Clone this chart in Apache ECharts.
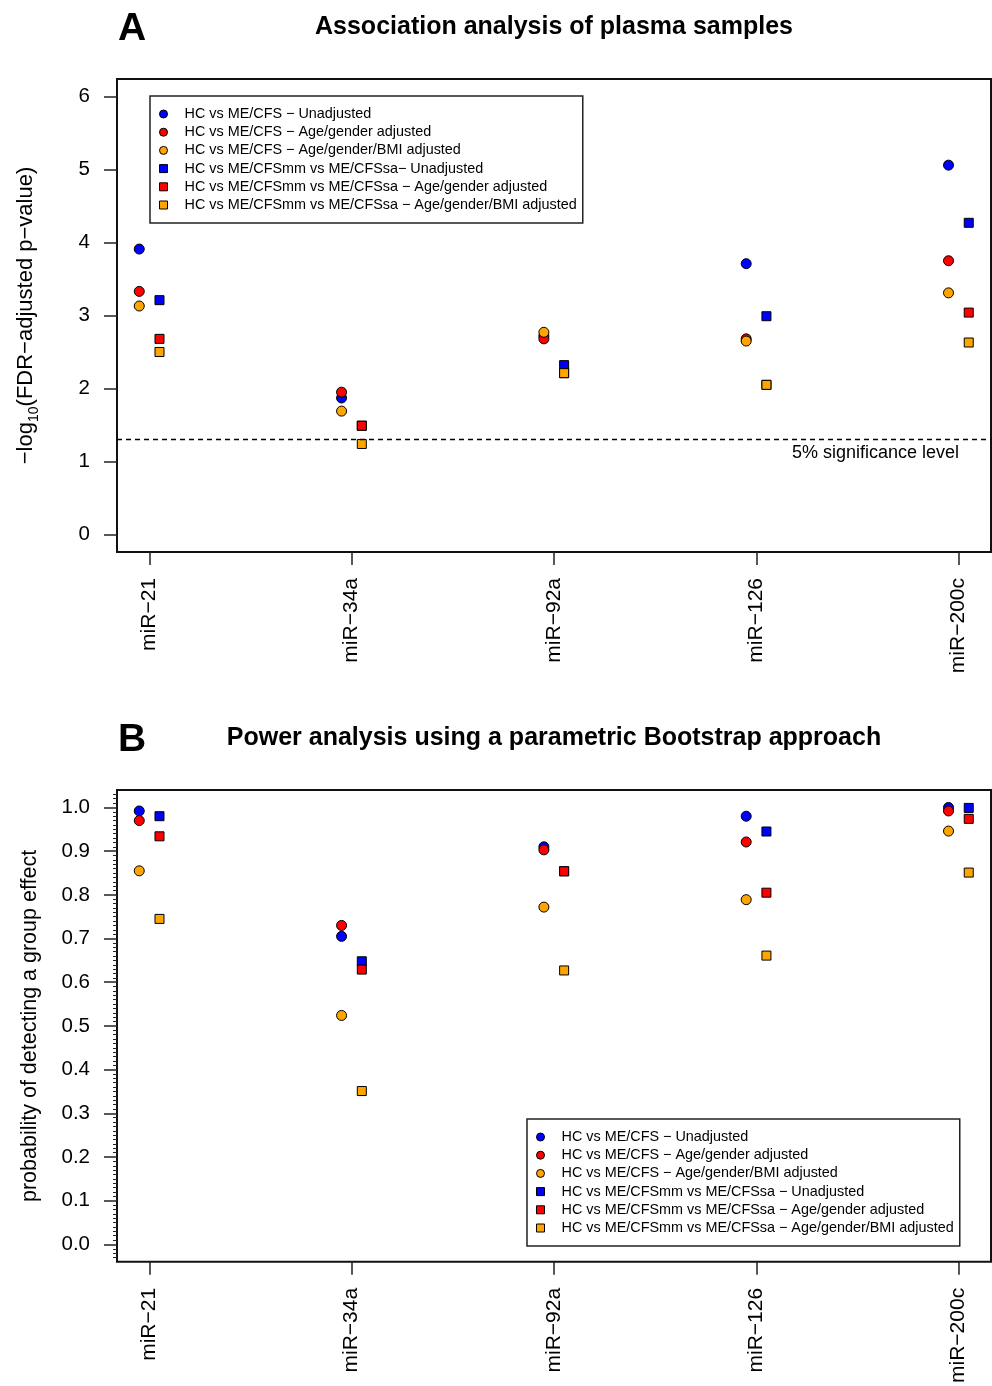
<!DOCTYPE html>
<html>
<head>
<meta charset="utf-8">
<script src="https://cdn.jsdelivr.net/npm/echarts@6/dist/echarts.min.js"></script>
<style>
  html, body { margin: 0; padding: 0; background: #fff; }
  #chart { width: 992px; height: 1386px; }
</style>
</head>
<body>
<div id="chart"></div>
<script>
// categories (x axis) and tick values
var mirnas = ['miR−21', 'miR−34a', 'miR−92a', 'miR−126', 'miR−200c'];
var xTicks = [1, 2, 3, 4, 5];
var yTicksA = [0, 1, 2, 3, 4, 5, 6];
var yTicksB = [0, 0.1, 0.2, 0.3, 0.4, 0.5, 0.6, 0.7, 0.8, 0.9, 1.0];
var sigLevel = 1.30103; // -log10(0.05)

var namesA = [
    'HC vs ME/CFS − Unadjusted',
    'HC vs ME/CFS − Age/gender adjusted',
    'HC vs ME/CFS − Age/gender/BMI adjusted',
    'HC vs ME/CFSmm vs ME/CFSsa− Unadjusted',
    'HC vs ME/CFSmm vs ME/CFSsa − Age/gender adjusted',
    'HC vs ME/CFSmm vs ME/CFSsa − Age/gender/BMI adjusted'
];
var namesB = [
    'HC vs ME/CFS − Unadjusted',
    'HC vs ME/CFS − Age/gender adjusted',
    'HC vs ME/CFS − Age/gender/BMI adjusted',
    'HC vs ME/CFSmm vs ME/CFSsa − Unadjusted',
    'HC vs ME/CFSmm vs ME/CFSsa − Age/gender adjusted',
    'HC vs ME/CFSmm vs ME/CFSsa − Age/gender/BMI adjusted'
];

// A: -log10(FDR-adjusted p-value)
var aHcUnadj     = [3.91, 1.87, 2.72, 3.71, 5.06];
var aHcAge       = [3.33, 1.95, 2.68, 2.68, 3.75];
var aHcAgeBmi    = [3.13, 1.69, 2.77, 2.65, 3.31];
var aSubUnadj    = [3.21, 1.49, 2.32, 2.99, 4.27];
var aSubAge      = [2.68, 1.49, 2.21, 2.05, 3.04];
var aSubAgeBmi   = [2.50, 1.24, 2.21, 2.05, 2.63];

// B: probability of detecting a group effect
var bHcUnadj     = [0.992, 0.705, 0.910, 0.980, 1.000];
var bHcAge       = [0.970, 0.730, 0.903, 0.921, 0.992];
var bHcAgeBmi    = [0.855, 0.524, 0.772, 0.789, 0.946];
var bSubUnadj    = [0.980, 0.648, 0.854, 0.945, 0.999];
var bSubAge      = [0.934, 0.629, 0.854, 0.805, 0.974];
var bSubAgeBmi   = [0.745, 0.351, 0.627, 0.661, 0.851];

var colors = ['#0000FF', '#FF0000', '#FFA500'];
var font = 'Liberation Sans, Arial, Helvetica, sans-serif';

function pts(vals, off) {
    return vals.map(function (v, i) { return [i + 1 + off, v]; });
}

function mkSeries(name, vals, k, gi) {
    var isSq = k >= 3;
    return {
        name: name,
        type: 'scatter',
        xAxisIndex: gi,
        yAxisIndex: gi,
        symbol: isSq ? 'rect' : 'circle',
        symbolSize: isSq ? 9 : 10,
        itemStyle: { color: colors[k % 3], borderColor: '#000', borderWidth: 1, opacity: 1 },
        emphasis: { disabled: true },
        data: pts(vals, isSq ? 0.05 : -0.05)
    };
}

function xAx(gi) {
    return {
        type: 'value', gridIndex: gi, min: 0.84, max: 5.16,
        axisLine: { show: false, onZero: false },
        splitLine: { show: false },
        axisTick: { show: true, length: 13, customValues: xTicks, lineStyle: { color: '#222', width: 1.5 } },
        axisLabel: {
            customValues: xTicks, rotate: 90, margin: 26, fontSize: 21, color: '#000', fontFamily: font,
            formatter: function (v) { return mirnas[Math.round(v) - 1]; }
        }
    };
}

function legendOf(names, left, top) {
    return {
        orient: 'vertical', left: left, top: top,
        padding: [9, 6, 9, 9], itemGap: 0.2, itemWidth: 8, itemHeight: 8,
        selectedMode: false,
        borderColor: '#222', borderWidth: 1.5, backgroundColor: '#fff',
        itemStyle: { borderColor: '#000', borderWidth: 1 },
        textStyle: { fontSize: 14.4, lineHeight: 18, padding: [0, 0, 0, 12], color: '#000', fontFamily: font },
        data: names.map(function (n, i) { return { name: n, icon: i < 3 ? 'circle' : 'rect' }; })
    };
}

var myChart = echarts.init(document.getElementById('chart'));

var valsA = [aHcUnadj, aHcAge, aHcAgeBmi, aSubUnadj, aSubAge, aSubAgeBmi];
var valsB = [bHcUnadj, bHcAge, bHcAgeBmi, bSubUnadj, bSubAge, bSubAgeBmi];
var series = [];
valsA.forEach(function (v, k) { series.push(mkSeries(namesA[k], v, k, 0)); });
valsB.forEach(function (v, k) { series.push(mkSeries(namesB[k], v, k, 1)); });

// dashed significance line in panel A
series[0].markLine = {
    silent: true,
    symbol: 'none',
    lineStyle: { color: '#000', type: [5, 4], width: 1.3 },
    label: {
        show: true, position: 'insideEndBottom', formatter: '5% significance level',
        fontSize: 18, color: '#000', fontFamily: font, distance: [32, 4]
    },
    data: [{ yAxis: sigLevel }]
};

var option = {
    animation: false,
    backgroundColor: '#fff',
    title: [
        { text: 'A', left: 118, top: 10, padding: 0, textStyle: { fontSize: 39, fontWeight: 'bold', color: '#000', fontFamily: font } },
        { text: 'Association analysis of plasma samples', left: 554, top: 15, padding: 0, textAlign: 'center',
          textStyle: { fontSize: 25, fontWeight: 'bold', color: '#000', fontFamily: font } },
        { text: 'B', left: 118, top: 721, padding: 0, textStyle: { fontSize: 39, fontWeight: 'bold', color: '#000', fontFamily: font } },
        { text: 'Power analysis using a parametric Bootstrap approach', left: 554, top: 726, padding: 0, textAlign: 'center',
          textStyle: { fontSize: 25, fontWeight: 'bold', color: '#000', fontFamily: font } }
    ],
    legend: [legendOf(namesA, 150, 96), legendOf(namesB, 527, 1119)],
    grid: [
        { left: 117, top: 79, width: 874, height: 473, show: true, borderColor: '#111', borderWidth: 2, backgroundColor: 'transparent' },
        { left: 117, top: 790, width: 874, height: 473, show: true, borderColor: '#111', borderWidth: 2, backgroundColor: 'transparent' }
    ],
    xAxis: [xAx(0), xAx(1)],
    yAxis: [
        {
            type: 'value', gridIndex: 0, min: -0.24, max: 6.24,
            axisLine: { show: false, onZero: false }, splitLine: { show: false },
            axisTick: { show: true, length: 13, customValues: yTicksA, lineStyle: { color: '#222', width: 1.5 } },
            axisLabel: { customValues: yTicksA, margin: 27, fontSize: 20.5, color: '#000', fontFamily: font },
            name: '−log{sub|10}(FDR−adjusted p−value)',
            nameLocation: 'middle', nameGap: 76,
            nameTextStyle: {
                fontSize: 22, color: '#000', fontFamily: font, lineHeight: 30,
                rich: { sub: { fontSize: 14, lineHeight: 14, verticalAlign: 'bottom', color: '#000', fontFamily: font } }
            }
        },
        {
            type: 'value', gridIndex: 1, min: -0.04, max: 1.04, splitNumber: 10,
            axisLine: { show: false, onZero: false }, splitLine: { show: false },
            axisTick: { show: true, length: 13, customValues: yTicksB, lineStyle: { color: '#222', width: 1.5 } },
            minorTick: { show: true, splitNumber: 10, length: 4, lineStyle: { color: '#222', width: 1 } },
            axisLabel: {
                customValues: yTicksB, margin: 27, fontSize: 20.5, color: '#000', fontFamily: font,
                formatter: function (v) { return v.toFixed(1); }
            },
            name: 'probability of detecting a group effect',
            nameLocation: 'middle', nameGap: 76,
            nameTextStyle: { fontSize: 21.5, color: '#000', fontFamily: font }
        }
    ],
    series: series
};

myChart.setOption(option);
</script>
</body>
</html>
